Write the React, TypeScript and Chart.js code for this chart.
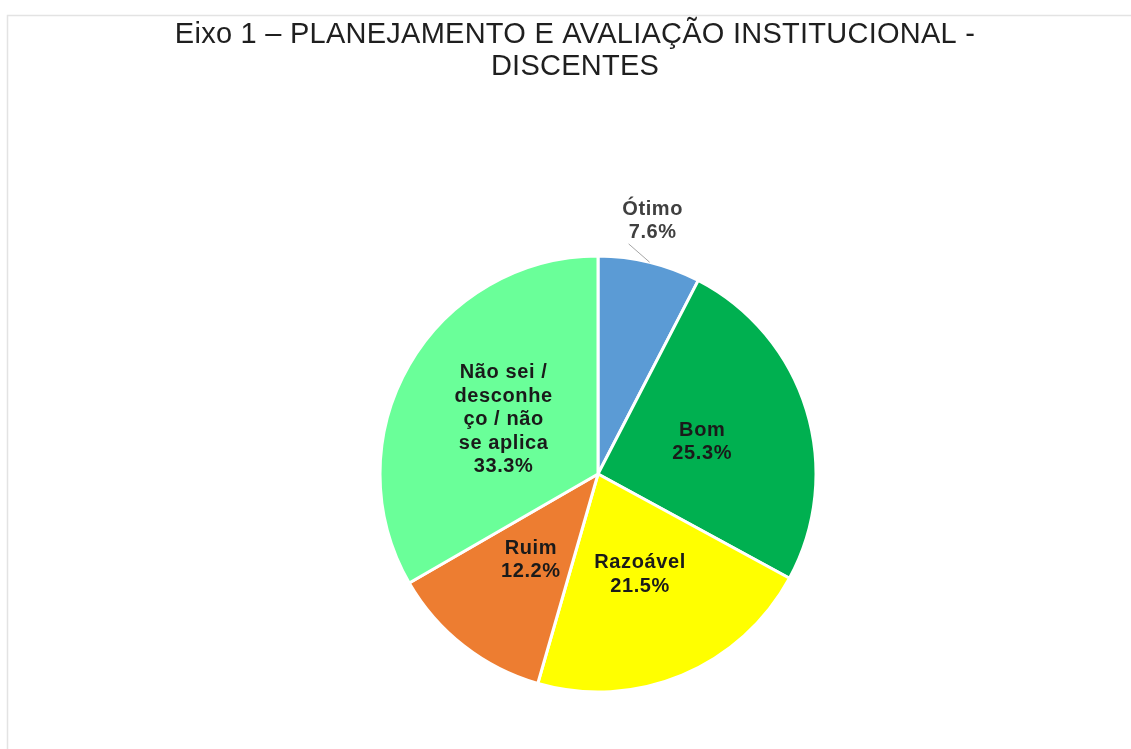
import React, { useEffect, useRef } from "react";
import { Chart, registerables } from "chart.js";

Chart.register(...registerables);

const TITLE_LINES = ["Eixo 1 – PLANEJAMENTO E AVALIAÇÃO INSTITUCIONAL -", "DISCENTES"];
const CATEGORIES = ["Ótimo", "Bom", "Razoável", "Ruim", "Não sei / desconheço / não se aplica"];
const LABEL_LINES = [["Ótimo"], ["Bom"], ["Razoável"], ["Ruim"], ["Não sei /", "desconhe", "ço / não", "se aplica"]];
const VALUES = [7.6, 25.3, 21.5, 12.2, 33.3];
const COLORS = ["#5B9BD5", "#00B050", "#FFFF00", "#ED7D31", "#6AFF99"];

const W = 1131;
const H = 749;

const overlayPlugin = {
  id: "overlay",
  beforeDraw(chart: any) {
    const ctx = chart.ctx;
    ctx.save();
    ctx.fillStyle = "#ffffff";
    ctx.fillRect(0, 0, W, H);
    ctx.strokeStyle = "#e3e3e3";
    ctx.lineWidth = 1.5;
    ctx.beginPath();
    ctx.moveTo(7.5, H + 5);
    ctx.lineTo(7.5, 15.5);
    ctx.lineTo(W + 5, 15.5);
    ctx.stroke();
    ctx.restore();
  },
  afterDraw(chart: any) {
    const ctx = chart.ctx;
    ctx.save();
    // title
    ctx.fillStyle = "#1f1f1f";
    ctx.font = "29px 'Liberation Sans', Arial, sans-serif";
    (ctx as any).letterSpacing = "0.25px";
    ctx.textAlign = "center";
    ctx.textBaseline = "alphabetic";
    TITLE_LINES.forEach((t, i) => ctx.fillText(t, 575, 43 + i * 32));

    // data labels
    const meta = chart.getDatasetMeta(0);
    const lh = 23.5;
    (ctx as any).letterSpacing = "0.6px";
    meta.data.forEach((arc: any, i: number) => {
      const { x, y, startAngle, endAngle, outerRadius } = arc.getProps(
        ["x", "y", "startAngle", "endAngle", "outerRadius"],
        true
      );
      const mid = (startAngle + endAngle) / 2;
      const lines = [...LABEL_LINES[i], VALUES[i].toFixed(1) + "%"];
      const outside = i === 0;
      const factor = outside ? 1.195 : 0.5;
      let cx = x + Math.cos(mid) * outerRadius * factor;
      let cy = y + Math.sin(mid) * outerRadius * factor;
      if (outside) {
        cx -= 7;
        // leader line
        ctx.strokeStyle = "#a6a6a6";
        ctx.lineWidth = 1;
        ctx.beginPath();
        ctx.moveTo(x + Math.cos(mid) * outerRadius, y + Math.sin(mid) * outerRadius);
        ctx.lineTo(cx - 24, cy + 23);
        ctx.stroke();
      }
      ctx.fillStyle = outside ? "#404040" : "#1a1a1a";
      ctx.font = "bold 20px 'Liberation Sans', Arial, sans-serif";
      ctx.textAlign = "center";
      ctx.textBaseline = "middle";
      const top = cy - ((lines.length - 1) * lh) / 2;
      lines.forEach((l, j) => ctx.fillText(l, cx, top + j * lh));
    });
    ctx.restore();
  },
};

export default function App() {
  const ref = useRef<HTMLCanvasElement | null>(null);
  useEffect(() => {
    if (!ref.current) return;
    const chart = new Chart(ref.current, {
      type: "pie",
      data: {
        labels: CATEGORIES,
        datasets: [
          {
            data: VALUES,
            backgroundColor: COLORS,
            borderColor: "#ffffff",
            borderWidth: 3,
            radius: 218,
          } as any,
        ],
      },
      options: {
        animation: false,
        responsive: false,
        events: [],
        layout: { padding: { top: 250, bottom: 51, left: 300, right: 235 } },
        plugins: {
          legend: { display: false },
          title: { display: false },
          tooltip: { enabled: false },
        },
      },
      plugins: [overlayPlugin],
    });
    return () => chart.destroy();
  }, []);
  return (
    <div style={{ position: "fixed", left: 0, top: 0, width: W, height: H }}>
      <canvas ref={ref} width={W} height={H} style={{ width: W, height: H, display: "block" }} />
    </div>
  );
}
